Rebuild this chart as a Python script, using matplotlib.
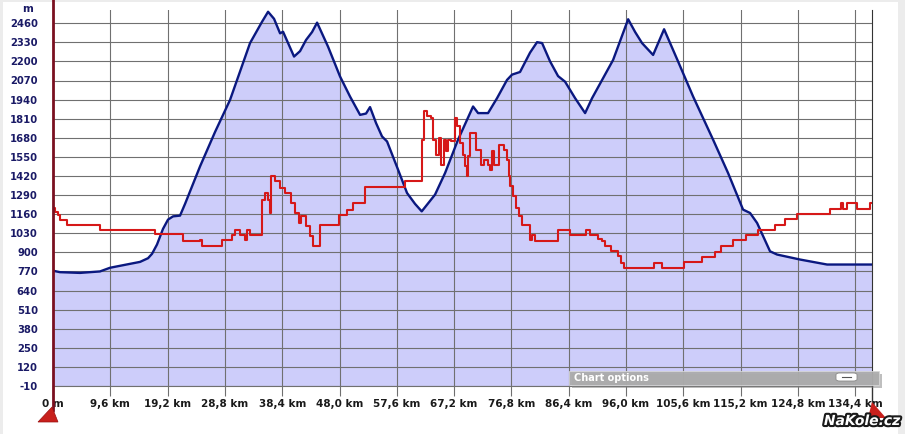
import matplotlib
matplotlib.use("Agg")
import matplotlib.pyplot as plt
import matplotlib.patheffects as pe
from matplotlib.patches import Rectangle, FancyBboxPatch, Polygon
from matplotlib.lines import Line2D
import numpy as np

# elevation profile (km, m)
dist_km = [0.0, 1.17, 4.52, 7.87, 9.55, 12.06, 14.58, 15.92, 16.59, 17.42, 18.43,
           19.27, 20.11, 21.28, 22.12, 24.63, 27.15, 29.66, 33.01, 35.02, 36.03,
           37.03, 38.04, 38.54, 40.38, 41.39, 42.39, 43.40, 44.24, 46.08, 48.09,
           49.77, 51.44, 52.44, 53.11, 54.12, 55.12, 55.96, 57.64, 59.31, 60.65,
           61.77, 64.00, 65.68, 67.85, 70.37, 71.21, 72.88, 74.39, 76.06, 76.90,
           78.24, 79.92, 81.09, 81.93, 83.27, 84.61, 85.78, 87.46, 89.14, 90.31,
           91.99, 93.83, 96.35, 97.52, 98.69, 100.53, 102.37, 104.72, 107.23,
           110.58, 113.09, 115.60, 116.77, 117.95, 120.12, 121.30, 125.15,
           129.68, 133.53, 137.2]
elevation = [775, 765, 760, 770, 795, 815, 835, 860, 890, 953, 1060,
             1123, 1145, 1150, 1230, 1485, 1720, 1938, 2325, 2470, 2538,
             2490, 2391, 2402, 2233, 2270, 2346, 2400, 2464, 2300, 2097,
             1960, 1836, 1845, 1889, 1780, 1689, 1655, 1480, 1304, 1230,
             1179, 1293, 1440, 1667, 1893, 1848, 1848, 1950, 2074, 2110,
             2128, 2260, 2331, 2325, 2200, 2100, 2062, 1950, 1848, 1950,
             2074, 2210, 2487, 2400, 2324, 2244, 2419, 2199, 1961,
             1667, 1440, 1191, 1168, 1100, 907, 885, 851,
             817, 817, 817]

# second series (red, stepped)
red_km = [0.0, 0.34, 0.84, 1.17, 2.35, 7.87, 17.09, 21.78, 24.63, 24.96, 28.31,
          29.99, 30.49, 31.33, 32.17, 32.50, 33.01, 35.02, 35.52, 36.03, 36.36,
          36.53, 37.20, 38.04, 38.87, 39.88, 40.55, 41.22, 41.55, 42.39, 43.06,
          43.56, 44.74, 47.92, 49.26, 50.26, 52.27, 58.98, 61.82, 62.16, 62.66,
          63.33, 63.67, 64.17, 64.67, 65.01, 65.51, 65.84, 66.18, 66.68, 67.35,
          67.69, 68.19, 68.69, 69.03, 69.36, 69.53, 69.87, 70.87, 71.71, 72.21,
          72.88, 73.22, 73.55, 73.89, 74.72, 75.56, 76.06, 76.40, 76.57, 77.07,
          77.57, 78.07, 78.58, 79.92, 80.25, 80.75, 84.61, 86.62, 89.30, 89.97,
          91.31, 91.98, 92.48, 93.49, 94.66, 95.16, 95.66, 100.69, 102.03,
          105.72, 108.73, 110.91, 111.92, 113.93, 116.10, 118.11, 120.96,
          122.64, 124.65, 130.18, 132.02, 132.36, 133.03, 134.70, 136.88, 137.21]
red_val = [1202, 1172, 1157, 1123, 1089, 1050, 1023, 980, 987, 942, 987,
           1021, 1055, 1021, 987, 1055, 1021, 1259, 1304, 1259, 1169,
           1417, 1383, 1338, 1304, 1236, 1169, 1100, 1145, 1077, 1010,
           942, 1089, 1157, 1191, 1236, 1343, 1383, 1667, 1859, 1825,
           1814, 1667, 1565, 1678, 1497, 1667, 1588, 1667, 1655, 1814,
           1757, 1644, 1560, 1485, 1417, 1553, 1712, 1599, 1497, 1531,
           1497, 1463, 1588, 1497, 1633, 1599, 1531, 1420, 1349, 1281,
           1202, 1150, 1089, 987, 1021, 975, 1050, 1021, 1050, 1021,
           990, 975, 942, 907, 873, 829, 794, 829, 794,
           833, 869, 903, 942, 982, 1019, 1055, 1089,
           1128, 1164, 1198, 1236, 1198, 1236, 1198, 1236, 1236]

x_ticks = np.arange(0, 134.5, 9.6)
y_ticks = np.arange(-10, 2461, 130)
x_labels = ["0 m"] + [("%.1f km" % v).replace(".", ",") for v in x_ticks[1:]]

W, H = 905, 434
fig = plt.figure(figsize=(W / 100, H / 100), dpi=100)
fig.patch.set_facecolor("#ececec")
fig.add_artist(Rectangle((3 / W, 0), 895 / W, 432 / H, transform=fig.transFigure,
                         facecolor="white", edgecolor="none", zorder=0))

ax = fig.add_axes([53 / W, 1 - 386 / H, (872 - 53) / W, (386 - 10) / H])
ax.set_facecolor("none")

ax.fill_between(dist_km, -10, elevation, color="#cdcdfa", lw=0, zorder=1)
ax.plot(dist_km, elevation, color="#0a1880", lw=1.7, zorder=3)
ax.plot(red_km, red_val, color="#d61818", lw=1.5, drawstyle="steps-post", zorder=4)

ax.set_xlim(0, 137.2)
ax.set_ylim(-10, 2550)
ax.set_xticks(x_ticks)
ax.set_xticklabels(x_labels)
ax.set_yticks(y_ticks)
ax.set_yticklabels([str(v) for v in y_ticks])
ax.grid(True, color="#707070", lw=0.8, zorder=2)
ax.set_axisbelow(False)

for s in ["top", "left"]:
    ax.spines[s].set_visible(False)
ax.spines["right"].set_color("#333333")
ax.spines["bottom"].set_color("#707070")
ax.spines["bottom"].set_linewidth(0.8)

ax.tick_params(axis="x", length=7.2, width=0.8, color="#707070", pad=2,
               labelsize=7.5, labelcolor="#1a1a1a")
ax.tick_params(axis="y", length=0, pad=11, labelsize=7.2, labelcolor="#1a1a66")
for lab in ax.get_xticklabels() + ax.get_yticklabels():
    lab.set_fontweight("bold")

fig.text(27.7 / W, 1 - 9 / H, "m", ha="center", va="center", fontsize=7.5,
         fontweight="bold", color="#1a1a66")

# range slider markers
fig.add_artist(Line2D([52.5 / W, 52.5 / W], [1 - 0 / H, 1 - 410 / H], transform=fig.transFigure,
                      color="#7a1020", lw=2, zorder=10))
fig.add_artist(Polygon([(52 / W, 1 - 407 / H), (38 / W, 1 - 422 / H), (58 / W, 1 - 422 / H)],
                       closed=True, transform=fig.transFigure, facecolor="#c8201c",
                       edgecolor="#9a1010", lw=0.5, zorder=10))
fig.add_artist(Line2D([872.3 / W, 872.3 / W], [1 - 386 / H, 1 - 405 / H], transform=fig.transFigure,
                      color="#333333", lw=1, zorder=10))
fig.add_artist(Polygon([(872 / W, 1 - 402 / H), (886 / W, 1 - 418 / H), (868 / W, 1 - 418 / H)],
                       closed=True, transform=fig.transFigure, facecolor="#c8201c",
                       edgecolor="none", zorder=10))

# "Chart options" bar
fig.add_artist(Rectangle((572 / W, 1 - 388 / H), 310 / W, 14 / H, transform=fig.transFigure,
                         facecolor="#808080", alpha=0.5, edgecolor="none", zorder=11))
fig.add_artist(Rectangle((569 / W, 1 - 385 / H), 310 / W, 14 / H, transform=fig.transFigure,
                         facecolor="#acacac", alpha=0.95, edgecolor="#d8d8d8", lw=0.6, zorder=12))
fig.text(574 / W, 1 - 378 / H, "Chart options", ha="left", va="center", fontsize=7,
         fontweight="bold", color="white", zorder=13)
fig.add_artist(FancyBboxPatch((836 / W, 1 - 381 / H), 21 / W, 8 / H, transform=fig.transFigure,
                              boxstyle="round,pad=0,rounding_size=0.004", facecolor="white",
                              edgecolor="#888888", lw=0.6, zorder=13))
fig.add_artist(Line2D([842 / W, 851 / W], [1 - 377 / H, 1 - 377 / H], transform=fig.transFigure,
                      color="#555555", lw=0.8, zorder=14))

# watermark
fig.text(862 / W, 1 - 421 / H, "NaKole.cz", ha="center", va="center", fontsize=10,
         fontweight="bold", fontstyle="italic", color="white", zorder=15,
         path_effects=[pe.withStroke(linewidth=3, foreground="#1a1a1a")])

fig.savefig("out.png", dpi=100)
